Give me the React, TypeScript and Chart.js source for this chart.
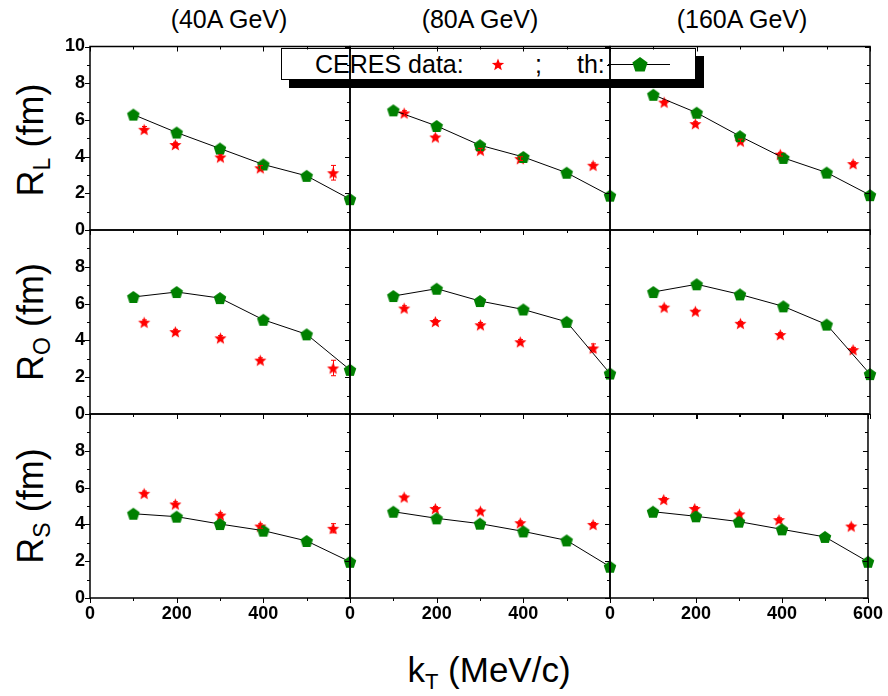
import React, { useEffect, useRef } from "react";
import { Chart, registerables } from "chart.js";
Chart.register(...registerables);

// ---------------- data ----------------
const energyLabels = ["(40A GeV)", "(80A GeV)", "(160A GeV)"];
const radiusSubs = ["L", "O", "S"];
const kT_th = [100, 200, 300, 400, 500, 600];
const kT_ceres = [125, 197, 301, 393, 561];
const xTickValues = [0, 200, 400, 600];
const yTickValues = [0, 2, 4, 6, 8, 10];

const RL_th_40 = [6.29, 5.31, 4.44, 3.57, 2.95, 1.68];
const RL_th_80 = [6.52, 5.67, 4.62, 3.98, 3.12, 1.87];
const RL_th_160 = [7.37, 6.39, 5.11, 3.93, 3.13, 1.9];
const RL_ceres_40 = [5.49, 4.66, 3.98, 3.39, 3.12];
const RL_ceres_80 = [6.38, 5.07, 4.35, 3.89, 3.53];
const RL_ceres_160 = [6.97, 5.8, 4.85, 4.13, 3.62];
const RL_err_40 = [0.15, 0.12, 0.12, 0.12, 0.4];
const RL_err_80 = [0.12, 0.1, 0.1, 0.1, 0.12];
const RL_err_160 = [0.1, 0.1, 0.1, 0.1, 0.1];

const RO_th_40 = [6.36, 6.63, 6.3, 5.12, 4.33, 2.4];
const RO_th_80 = [6.41, 6.81, 6.14, 5.68, 5.01, 2.2];
const RO_th_160 = [6.63, 7.05, 6.5, 5.85, 4.86, 2.17];
const RO_ceres_40 = [4.99, 4.48, 4.14, 2.93, 2.5];
const RO_ceres_80 = [5.76, 5.03, 4.85, 3.93, 3.59];
const RO_ceres_160 = [5.81, 5.59, 4.93, 4.32, 3.5];
const RO_err_40 = [0.12, 0.12, 0.12, 0.12, 0.42];
const RO_err_80 = [0.12, 0.1, 0.12, 0.12, 0.22];
const RO_err_160 = [0.1, 0.1, 0.1, 0.1, 0.12];

const RS_th_40 = [4.58, 4.42, 4.02, 3.66, 3.1, 1.97];
const RS_th_80 = [4.69, 4.33, 4.04, 3.62, 3.13, 1.7];
const RS_th_160 = [4.69, 4.44, 4.15, 3.73, 3.32, 1.97];
const RS_ceres_40 = [5.69, 5.11, 4.51, 3.91, 3.79];
const RS_ceres_80 = [5.49, 4.87, 4.73, 4.09, 4.0];
const RS_ceres_160 = [5.36, 4.87, 4.57, 4.26, 3.91];
const RS_err_40 = [0.12, 0.12, 0.12, 0.12, 0.25];
const RS_err_80 = [0.1, 0.1, 0.1, 0.1, 0.1];
const RS_err_160 = [0.1, 0.1, 0.1, 0.1, 0.1];

const thTable = [
  [RL_th_40, RL_th_80, RL_th_160],
  [RO_th_40, RO_th_80, RO_th_160],
  [RS_th_40, RS_th_80, RS_th_160],
];
const ceresTable = [
  [RL_ceres_40, RL_ceres_80, RL_ceres_160],
  [RO_ceres_40, RO_ceres_80, RO_ceres_160],
  [RS_ceres_40, RS_ceres_80, RS_ceres_160],
];
const errTable = [
  [RL_err_40, RL_err_80, RL_err_160],
  [RO_err_40, RO_err_80, RO_err_160],
  [RS_err_40, RS_err_80, RS_err_160],
];

// ---------------- layout ----------------
const W = 888;
const H = 696;
const colEdges = [90, 350, 610, 870];
const rowEdges = [46.5, 230, 414, 598];
const YAXIS_W = 40;
const XAXIS_H = 30;
const FONT = "'Liberation Sans', Arial, Helvetica, sans-serif";
const GREEN = "#008000";
const RED = "#ff0000";

function makePentagon(r: number, color: string) {
  const c = document.createElement("canvas");
  const s = Math.ceil(2 * r + 2);
  c.width = s;
  c.height = s;
  const g = c.getContext("2d")!;
  g.fillStyle = color;
  g.beginPath();
  for (let i = 0; i < 5; i++) {
    const a = -Math.PI / 2 + (i * 2 * Math.PI) / 5;
    g.lineTo(s / 2 + r * Math.cos(a), s / 2 + 0.6 + r * Math.sin(a));
  }
  g.closePath();
  g.fill();
  return c;
}

function makeStar(r: number, ri: number, color: string) {
  const c = document.createElement("canvas");
  const s = Math.ceil(2 * r + 2);
  c.width = s;
  c.height = s;
  const g = c.getContext("2d")!;
  g.fillStyle = color;
  g.beginPath();
  for (let i = 0; i < 10; i++) {
    const a = -Math.PI / 2 + (i * Math.PI) / 5;
    const rr = i % 2 === 0 ? r : ri;
    g.lineTo(s / 2 + rr * Math.cos(a), s / 2 + 0.8 + rr * Math.sin(a));
  }
  g.closePath();
  g.fill();
  return c;
}

const framePlugin = {
  id: "frame",
  afterDraw(chart: any) {
    const { ctx, chartArea: a } = chart;
    const x = chart.scales.x;
    const y = chart.scales.y;
    ctx.save();
    ctx.strokeStyle = "#000";
    ctx.lineWidth = 1.5;
    ctx.strokeRect(a.left, a.top, a.right - a.left, a.bottom - a.top);
    ctx.lineWidth = 1;
    ctx.beginPath();
    for (let v = 0; v <= 600; v += 100) {
      const px = Math.round(x.getPixelForValue(v)) + 0.5;
      const len = v % 200 === 0 ? 5 : 3;
      ctx.moveTo(px, a.bottom);
      ctx.lineTo(px, a.bottom + len);
      ctx.moveTo(px, a.top);
      ctx.lineTo(px, a.top + len);
    }
    for (let v = 0; v <= 10; v += 1) {
      const py = Math.round(y.getPixelForValue(v)) + 0.5;
      const len = v % 2 === 0 ? 5 : 3;
      ctx.moveTo(a.left - len, py);
      ctx.lineTo(a.left, py);
      ctx.moveTo(a.right - len, py);
      ctx.lineTo(a.right, py);
    }
    ctx.stroke();
    ctx.restore();
  },
};

const errorPlugin = {
  id: "errbars",
  afterDatasetsDraw(chart: any) {
    const ds = chart.data.datasets[1];
    const errs: number[] = ds.errors;
    if (!errs) return;
    const { ctx } = chart;
    const x = chart.scales.x;
    const y = chart.scales.y;
    ctx.save();
    ctx.strokeStyle = RED;
    ctx.lineWidth = 1;
    ctx.beginPath();
    ds.data.forEach((p: any, i: number) => {
      const px = Math.round(x.getPixelForValue(p.x)) + 0.5;
      const y1 = y.getPixelForValue(p.y + errs[i]);
      const y2 = y.getPixelForValue(p.y - errs[i]);
      ctx.moveTo(px, y1);
      ctx.lineTo(px, y2);
      ctx.moveTo(px - 2.5, y1);
      ctx.lineTo(px + 2.5, y1);
      ctx.moveTo(px - 2.5, y2);
      ctx.lineTo(px + 2.5, y2);
    });
    ctx.stroke();
    ctx.restore();
  },
};

function Panel({ row, col }: { row: number; col: number }) {
  const ref = useRef<HTMLCanvasElement>(null);
  useEffect(() => {
    const left = colEdges[col];
    const right = colEdges[col + 1];
    const top = rowEdges[row];
    const bottom = rowEdges[row + 1];
    const pent = makePentagon(6.6, GREEN);
    const star = makeStar(6.4, 2.8, RED);
    const chart = new Chart(ref.current!, {
      type: "scatter",
      data: {
        datasets: [
          {
            label: "th",
            data: kT_th.map((x, i) => ({ x, y: thTable[row][col][i] })),
            showLine: true,
            borderColor: "#000",
            borderWidth: 1,
            pointStyle: pent as any,
            pointRadius: 7,
            clip: false as any,
          },
          {
            label: "CERES data",
            data: kT_ceres.map((x, i) => ({ x, y: ceresTable[row][col][i] })),
            errors: errTable[row][col],
            showLine: false,
            pointStyle: star as any,
            pointRadius: 6,
            clip: false as any,
          } as any,
        ],
      },
      options: {
        responsive: false,
        animation: false,
        devicePixelRatio: 1,
        events: [],
        layout: {
          autoPadding: false,
          padding: {
            left: left - YAXIS_W,
            top,
            right: W - right,
            bottom: H - bottom - XAXIS_H,
          },
        },
        plugins: { legend: { display: false }, tooltip: { enabled: false } },
        scales: {
          x: {
            type: "linear",
            min: 0,
            max: 600,
            afterFit: (s: any) => {
              s.height = XAXIS_H;
            },
            afterBuildTicks: (s: any) => {
              s.ticks = xTickValues.map((v) => ({ value: v }));
            },
            grid: { display: false, drawTicks: false },
            border: { display: false },
            ticks: {
              display: row === 2,
              padding: 5,
              maxRotation: 0,
              minRotation: 0,
              autoSkip: false,
              color: "#000",
              font: { family: FONT, size: 18, weight: "bold" },
              callback: (v: any) => (v === 600 && col < 2 ? "" : String(v)),
            },
          },
          y: {
            type: "linear",
            min: 0,
            max: 10,
            afterFit: (s: any) => {
              s.width = YAXIS_W;
            },
            afterBuildTicks: (s: any) => {
              s.ticks = yTickValues.map((v) => ({ value: v }));
            },
            grid: { display: false, drawTicks: false },
            border: { display: false },
            ticks: {
              display: col === 0,
              padding: 5,
              autoSkip: false,
              color: "#000",
              font: { family: FONT, size: 18, weight: "bold" },
              callback: (v: any) => (v === 10 && row > 0 ? "" : String(v)),
            },
          },
        },
      } as any,
      plugins: [framePlugin, errorPlugin],
    });
    return () => chart.destroy();
  }, [row, col]);
  return (
    <canvas
      ref={ref}
      width={W}
      height={H}
      style={{ position: "absolute", left: 0, top: 0, width: W, height: H }}
    />
  );
}

function StarSvg({ cx, cy, r, ri }: { cx: number; cy: number; r: number; ri: number }) {
  const pts: string[] = [];
  for (let i = 0; i < 10; i++) {
    const a = -Math.PI / 2 + (i * Math.PI) / 5;
    const rr = i % 2 === 0 ? r : ri;
    pts.push(`${cx + rr * Math.cos(a)},${cy + rr * Math.sin(a)}`);
  }
  return <polygon points={pts.join(" ")} fill={RED} />;
}

function PentSvg({ cx, cy, r }: { cx: number; cy: number; r: number }) {
  const pts: string[] = [];
  for (let i = 0; i < 5; i++) {
    const a = -Math.PI / 2 + (i * 2 * Math.PI) / 5;
    pts.push(`${cx + r * Math.cos(a)},${cy + r * Math.sin(a)}`);
  }
  return <polygon points={pts.join(" ")} fill={GREEN} />;
}

export default function App() {
  const titleCenters = [229, 480, 742];
  const rowCenters = [140, 322, 506];
  const txt: React.CSSProperties = {
    position: "absolute",
    fontFamily: FONT,
    color: "#000",
    whiteSpace: "nowrap",
  };
  return (
    <div
      style={{
        position: "fixed",
        left: 0,
        top: 0,
        width: W,
        height: H,
        background: "#fff",
        overflow: "hidden",
      }}
    >
      {/* legend (under the panel frames) */}
      <div
        style={{
          position: "absolute",
          left: 281,
          top: 47.5,
          width: 415,
          height: 32,
          boxSizing: "border-box",
          border: "1px solid #000",
          background: "#fff",
          boxShadow: "8px 8px 0 0 #000",
        }}
      />
      <div style={{ ...txt, left: 315, top: 52, fontSize: 25, lineHeight: "25px" }}>CERES data:</div>
      <div style={{ ...txt, left: 535, top: 52, fontSize: 25, lineHeight: "25px" }}>;</div>
      <div style={{ ...txt, left: 577, top: 52, fontSize: 25, lineHeight: "25px" }}>th:</div>
      <svg width={W} height={H} style={{ position: "absolute", left: 0, top: 0 }}>
        <StarSvg cx={498} cy={65} r={6.5} ri={2.8} />
        <line x1={608} y1={64.5} x2={670} y2={64.5} stroke="#000" strokeWidth={1} />
        <PentSvg cx={640} cy={65} r={8} />
      </svg>

      {/* column titles */}
      {energyLabels.map((t, i) => (
        <div
          key={t}
          style={{
            ...txt,
            left: titleCenters[i],
            top: 7,
            fontSize: 25,
            lineHeight: "25px",
            transform: "translateX(-50%)",
          }}
        >
          {t}
        </div>
      ))}

      {/* row titles */}
      {radiusSubs.map((s, i) => (
        <div
          key={s}
          style={{
            ...txt,
            left: 36,
            top: rowCenters[i],
            fontSize: 36,
            lineHeight: "36px",
            transform: "translate(-50%, -50%) rotate(-90deg)",
          }}
        >
          R<sub style={{ fontSize: 23, verticalAlign: "-7px" }}>{s}</sub> (fm)
        </div>
      ))}

      {/* x title */}
      <div
        style={{
          ...txt,
          left: 489,
          top: 652,
          fontSize: 35,
          lineHeight: "35px",
          transform: "translateX(-50%)",
        }}
      >
        k<sub style={{ fontSize: 22, verticalAlign: "-7px" }}>T</sub> (MeV/c)
      </div>

      {[0, 1, 2].map((r) =>
        [0, 1, 2].map((c) => <Panel key={`${r}-${c}`} row={r} col={c} />)
      )}
    </div>
  );
}
